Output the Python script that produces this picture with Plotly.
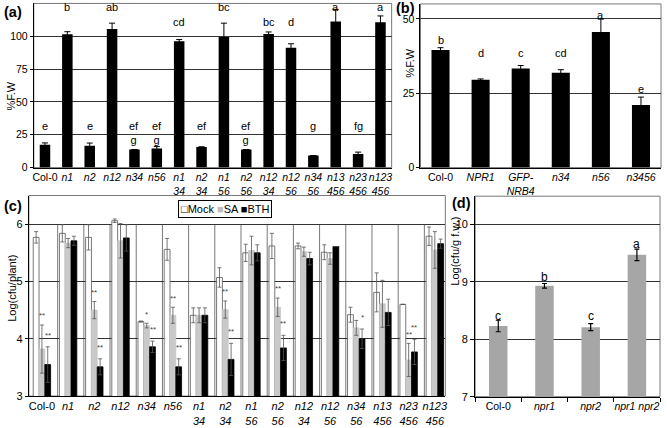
import plotly.graph_objects as go

W, H = 667, 428
FONT = "Liberation Sans, Arial, sans-serif"

# ---------------- data ----------------
a_categories = ["Col-0", "n1", "n2", "n12", "n34", "n56", "n1 34", "n2 34", "n1 56",
                "n2 56", "n12 34", "n12 56", "n34 56", "n13 456", "n23 456", "n123 456"]
a_values = [17.5, 101.5, 16.7, 105.5, 13.8, 14.5, 96.3, 15.7, 99.5, 13.7, 101.8, 91.3, 9.2, 111.2, 10.3, 110.7]
a_err = [1.3, 2.0, 2.0, 4.5, 0, 1.5, 1.2, 0, 10.5, 0, 1.5, 3.0, 0, 9.3, 1.5, 4.8]
a_letters = ["e", "b", "e", "ab", "ef<br>g", "ef<br>g", "cd", "ef", "bc", "ef<br>g",
             "bc", "d", "g", "a", "fg", "a"]
a_letter_y = [31.5, 122, 31.5, 122, 31.5, 31.5, 111, 31.5, 122, 31.5, 111, 111, 31.5, 122, 31.5, 122]

b_categories = ["Col-0", "NPR1", "GFP- NRB4", "n34", "n56", "n3456"]
b_values = [39.5, 29.5, 33.3, 31.9, 45.6, 21.0]
b_err = [0.8, 0.3, 1.0, 1.0, 4.3, 2.7]
b_letters = ["b", "d", "c", "cd", "a", "e"]
b_letter_y = [42.8, 38.6, 38.6, 38.6, 51.3, 26.5]

c_categories = a_categories
c_mock = [5.77, 5.84, 5.77, 6.06, 4.30, 5.56, 4.41, 5.07, 5.50, 5.62, 5.62, 5.51, 4.42, 4.81, 4.60, 5.79]
c_mock_err = [0.10, 0.15, 0.22, 0.03, 0.01, 0.19, 0.13, 0.17, 0.15, 0.22, 0.05, 0.13, 0.13, 0.34, 0, 0.16]
c_sa = [3.82, 5.67, 4.50, 5.71, 4.23, 4.41, 4.41, 4.51, 5.54, 4.55, 5.52, 5.40, 4.19, 4.61, 3.63, 5.55]
c_sa_err = [0.42, 0.08, 0.15, 0.30, 0.04, 0.14, 0.13, 0.15, 0.25, 0.16, 0.08, 0.10, 0.13, 0.41, 0.29, 0.32]
c_bth = [3.55, 5.71, 3.51, 5.76, 3.86, 3.51, 4.41, 3.64, 5.50, 3.84, 5.40, 5.61, 4.00, 4.46, 3.77, 5.66]
c_bth_err = [0.31, 0.08, 0.14, 0.23, 0.10, 0.14, 0.13, 0.28, 0.14, 0.22, 0.11, 0, 0.17, 0.23, 0.22, 0.08]
c_sa_sig = ["**", "", "**", "", "*", "**", "", "**", "", "**", "", "", "", "", "**", ""]
c_bth_sig = ["**", "", "**", "", "**", "**", "", "**", "", "**", "", "", "*", "", "**", ""]
c_series = ["Mock", "SA", "BTH"]

d_categories = ["Col-0", "npr1", "npr2", "npr1 npr2"]
d_values = [8.23, 8.93, 8.21, 9.47]
d_err = [0.10, 0.04, 0.06, 0.10]
d_letters = ["c", "b", "c", "a"]
d_letter_y = [8.41, 9.08, 8.41, 9.66]


def fmt(cat):
    if cat == "Col-0":
        return cat
    return "<br>".join("<i>%s</i>" % p for p in cat.split(" "))


def fmt_one_line(cat):
    if cat == "Col-0":
        return cat
    return "<i>%s</i>" % cat


def px(p):
    return p / W


def py(p):
    return 1 - p / H


fig = go.Figure()

# (a)
fig.add_trace(go.Bar(x=list(range(len(a_categories))), y=a_values, width=0.47,
                     marker=dict(color="black", line=dict(width=0)),
                     error_y=dict(type="data", array=a_err, color="black", thickness=1, width=3),
                     xaxis="x", yaxis="y", showlegend=False))
# (b)
fig.add_trace(go.Bar(x=list(range(len(b_categories))), y=b_values, width=0.45,
                     marker=dict(color="black", line=dict(width=0)),
                     error_y=dict(type="data", array=b_err, color="black", thickness=1, width=3),
                     xaxis="x2", yaxis="y2", showlegend=False))
# (c)
c_colors = ["white", "#c9c9c9", "black"]
c_lines = ["#555555", "#c9c9c9", "black"]
for name, vals, errs, col, lc in zip(c_series, [c_mock, c_sa, c_bth],
                                     [c_mock_err, c_sa_err, c_bth_err], c_colors, c_lines):
    fig.add_trace(go.Bar(x=list(range(len(c_categories))), y=vals, name=name,
                         marker=dict(color=col, line=dict(color=lc, width=0.8)),
                         error_y=dict(type="data", array=errs, color="#555555", thickness=0.8, width=2),
                         xaxis="x3", yaxis="y3", showlegend=False))
# (d)
fig.add_trace(go.Bar(x=[fmt_one_line(c) for c in d_categories], y=d_values, width=0.4,
                     marker=dict(color="#a6a6a6", line=dict(width=0)),
                     error_y=dict(type="data", array=d_err, color="black", thickness=1.2, width=2.5),
                     xaxis="x4", yaxis="y4", showlegend=False))

tick_a = dict(family=FONT, size=10.5, color="black")
tick_c = dict(family=FONT, size=11, color="black")

common_x = dict(showgrid=False, zeroline=False, showline=True, linecolor="black", linewidth=1, ticks="",
                tickangle=0)
common_y = dict(showgrid=True, gridcolor="#333333", gridwidth=1, zeroline=False, showline=True,
                linecolor="black", linewidth=1, ticks="outside", ticklen=3, tickcolor="black")

fig.update_layout(
    width=W, height=H, margin=dict(l=0, r=0, t=0, b=0),
    paper_bgcolor="white", plot_bgcolor="white",
    barmode="group", bargap=0.336, bargroupgap=0,
    font=dict(family=FONT, color="black"),
    xaxis=dict(domain=[px(33), px(393)], anchor="y", range=[-0.5, 15.5],
               tickvals=list(range(len(a_categories))), ticktext=[fmt(c) for c in a_categories],
               tickfont=tick_a, **common_x),
    yaxis=dict(domain=[py(170), py(3.5)], anchor="x", range=[0, 125], tickvals=[0, 25, 50, 75, 100],
               tickfont=tick_a, **common_y),
    xaxis2=dict(domain=[px(422), px(664)], anchor="y2", range=[-0.5, 5.5],
                tickvals=list(range(len(b_categories))), ticktext=[fmt(c) for c in b_categories],
                tickfont=tick_a, **common_x),
    yaxis2=dict(domain=[py(170), py(4)], anchor="x2", range=[0, 55], tickvals=[0, 25, 50],
                tickfont=tick_a, **common_y),
    xaxis3=dict(domain=[px(28), px(447)], anchor="y3", range=[-0.5, 15.4],
                tickvals=list(range(len(c_categories))), ticktext=[fmt(c) for c in c_categories],
                tickfont=tick_c, **common_x),
    yaxis3=dict(domain=[py(401.7), py(198.3)], anchor="x3", range=[3, 6.5], tickvals=[3, 4, 5, 6],
                tickfont=tick_c, **common_y),
    xaxis4=dict(domain=[px(477), px(663)], anchor="y4", type="category",
                showgrid=False, zeroline=False, showline=True, linecolor="black", linewidth=1,
                ticks="outside", tickson="boundaries", ticklen=4, tickcolor="black", tickangle=0,
                tickfont=dict(tick_c, size=10.5)),
    yaxis4=dict(domain=[py(402.3), py(199)], anchor="x4", range=[7, 10.49], tickvals=[7, 8, 9, 10],
                tickfont=tick_c, **dict(common_y, ticklen=4)),
)

shapes = []
for xr, yr in [("x", "y"), ("x2", "y2"), ("x3", "y3"), ("x4", "y4")]:
    shapes.append(dict(type="rect", xref=xr + " domain", yref=yr + " domain", x0=0, x1=1, y0=0, y1=1,
                       line=dict(color="#777777", width=1), layer="below"))
for i in range(len(c_categories) - 1):
    shapes.append(dict(type="line", xref="x3", yref="y3", x0=i + 0.6, x1=i + 0.6, y0=3, y1=6,
                       line=dict(color="#555555", width=0.8), layer="below"))
fig.update_layout(shapes=shapes)

ann = []
lf = dict(family=FONT, size=11, color="#000000")
for i, (t, yv) in enumerate(zip(a_letters, a_letter_y)):
    nlines = t.count("<br>") + 1
    ann.append(dict(x=i, y=yv - 5.25 * (nlines - 1), xref="x", yref="y", text=t, showarrow=False,
                    yanchor="middle", font=lf))
for i, (t, yv) in enumerate(zip(b_letters, b_letter_y)):
    ann.append(dict(x=i, y=yv, xref="x2", yref="y2", text=t, showarrow=False, font=lf))
for i, (t, yv) in enumerate(zip(d_letters, d_letter_y)):
    ann.append(dict(x=i, y=yv, xref="x4", yref="y4", text=t, showarrow=False, font=dict(lf, size=12)))

grp = (1 - 0.336) / 3
sf = dict(family=FONT, size=8, color="#444444")
for i in range(len(c_categories)):
    if c_sa_sig[i]:
        ann.append(dict(x=i, y=c_sa[i] + c_sa_err[i] + 0.16, xref="x3", yref="y3", text=c_sa_sig[i],
                        showarrow=False, font=sf))
    if c_bth_sig[i]:
        ann.append(dict(x=i + grp, y=c_bth[i] + c_bth_err[i] + 0.2, xref="x3", yref="y3",
                        text=c_bth_sig[i], showarrow=False, font=sf))

# panel labels
pl = dict(family=FONT, size=14.5, color="black")
for t, x, y in [("(a)", 1, 12), ("(b)", 395, 8), ("(c)", 1, 209), ("(d)", 452, 206)]:
    ann.append(dict(x=px(x), y=py(y), xref="paper", yref="paper", text="<b>%s</b>" % t,
                    showarrow=False, xanchor="left", yanchor="middle", font=pl))

# axis titles
tf = dict(family=FONT, size=11, color="black")
for t, x, y in [("%F.W", 10, 97), ("%F.W", 412, 64), ("Log(cfu/plant)", 11, 292),
                ("Log(cfu/g f.w.)", 457, 255)]:
    ann.append(dict(x=px(x), y=py(y), xref="paper", yref="paper", text=t, textangle=-90,
                    showarrow=False, xanchor="center", yanchor="middle", font=tf))

# legend for (c)
ann.append(dict(x=px(225.5), y=py(211.5), xref="paper", yref="paper",
                text="\u25a1Mock <span style='color:#bdbdbd'>\u25a0</span>SA \u25a0BTH",
                showarrow=False, bordercolor="black", borderwidth=1, borderpad=2, bgcolor="white",
                font=dict(family=FONT, size=11, color="black")))

fig.update_layout(annotations=ann)
fig.write_html("out.html", config={"displayModeBar": False},
               post_script="document.body.style.margin='0';document.body.style.overflow='hidden';")
